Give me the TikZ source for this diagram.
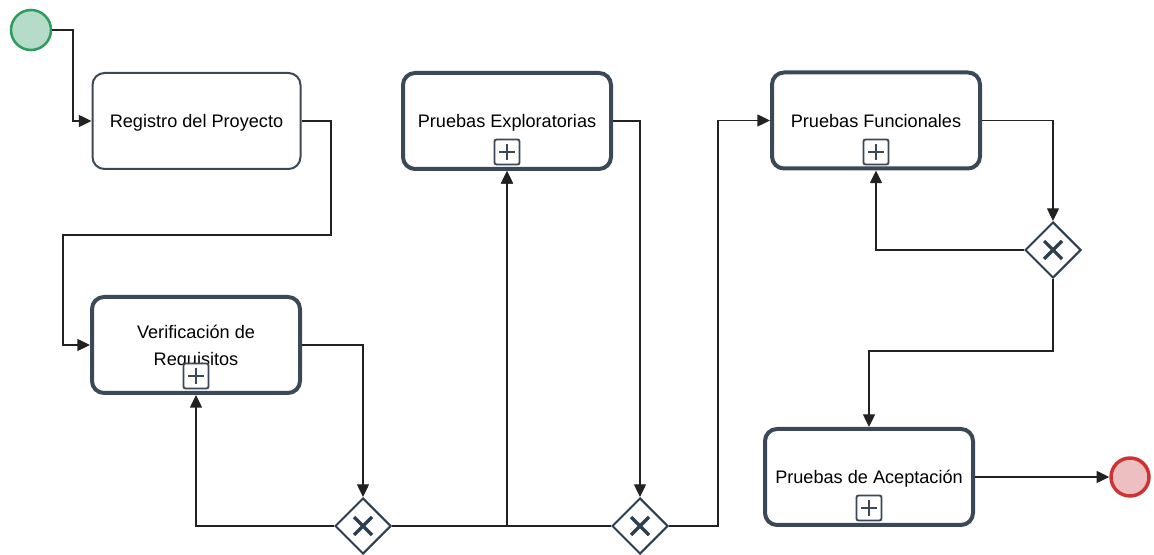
\documentclass[tikz,border=0pt]{standalone}
\usepackage{fontspec}
\setmainfont{Liberation Sans}
\usetikzlibrary{shapes.geometric,arrows.meta,calc}
\newdimen\px \px=0.75pt
\definecolor{taskline}{HTML}{3B4857}
\definecolor{gwline}{HTML}{2C3E50}
\definecolor{startfill}{HTML}{B5DCC8}
\definecolor{startline}{HTML}{2E9B5F}
\definecolor{endfill}{HTML}{EEBFC0}
\definecolor{endline}{HTML}{CC3333}
\definecolor{flowline}{HTML}{222222}
\tikzset{
  task/.style={draw=taskline, line width=1.5pt, rounded corners=9pt, fill=white,
    minimum width=208\px, minimum height=96\px, align=center, inner sep=0pt,
    text depth=0pt, font=\fontsize{13.6}{20}\selectfont, text=black},
  subtask/.style={task, line width=3pt},
  marker/.style={draw=taskline, line width=1.4pt, rounded corners=1.5pt, fill=white,
    minimum size=25\px, inner sep=0pt,
    path picture={\draw[taskline, line width=1.8pt]
      ([xshift=-8\px]path picture bounding box.center) -- ([xshift=8\px]path picture bounding box.center)
      ([yshift=-8\px]path picture bounding box.center) -- ([yshift=8\px]path picture bounding box.center);}},
  gateway/.style={diamond, aspect=1, draw=gwline, line width=1.5pt, fill=white,
    minimum width=56\px, minimum height=56\px, inner sep=0pt,
    path picture={\draw[gwline, line width=2.4pt]
      ([shift={(-9\px,-9\px)}]path picture bounding box.center) -- ([shift={(9\px,9\px)}]path picture bounding box.center)
      ([shift={(-9\px,9\px)}]path picture bounding box.center) -- ([shift={(9\px,-9\px)}]path picture bounding box.center);}},
  startev/.style={circle, draw=startline, fill=startfill, line width=1.9pt, minimum size=40\px, inner sep=0pt},
  endev/.style={circle, draw=endline, fill=endfill, line width=2.6pt, minimum size=38\px, inner sep=0pt},
  flow/.style={draw=flowline, line width=1pt, -{Triangle[length=9.5pt,width=9pt]}},
}
\begin{document}
\begin{tikzpicture}[x=0.75pt, y=-0.75pt]
\useasboundingbox (0,0) rectangle (1154,555);

% events
\node[startev] (start) at (31,30) {};
\node[endev] (end) at (1130,477) {};

% activities
\node[task] (reg) at (196.5,121) {Registro del Proyecto};
\node[subtask] (ver) at (196,345) {Verificación de\\Requisitos};
\node[subtask] (exp) at (507,121) {Pruebas Exploratorias};
\node[subtask] (fun) at (876,120.5) {Pruebas Funcionales};
\node[subtask] (acc) at (869,477) {Pruebas de Aceptación};

% collapsed sub-process markers
\node[marker] (verm) at (196,376) {};
\node[marker] (expm) at (507,152) {};
\node[marker] (funm) at (876,152) {};
\node[marker] (accm) at (869,508) {};

% exclusive gateways
\node[gateway] (g1) at (363,526) {};
\node[gateway] (g2) at (640,526) {};
\node[gateway] (g3) at (1053,250) {};

% sequence flows
\draw[flow] (start.east) -| (73,121) -- (reg.west);
\draw[flow] (reg.east) -- (331,121) -- (331,235) -- (63,235) |- (ver.west);
\draw[flow] (ver.east) -| (g1.north);
\draw[flow] (g1.west) -| (ver.south);
\draw[flow] (g1.east) -| (exp.south);
\draw[flow] (g2.west) -| (exp.south);
\draw[flow] (exp.east) -| (g2.north);
\draw[flow] (g2.east) -- (718,526) |- (fun.west);
\draw[flow] (fun.east) -| (g3.north);
\draw[flow] (g3.west) -| (fun.south);
\draw[flow] (g3.south) -- (1053,351) -| (acc.north);
\draw[flow] (acc.east) -- (end.west);
\end{tikzpicture}
\end{document}
